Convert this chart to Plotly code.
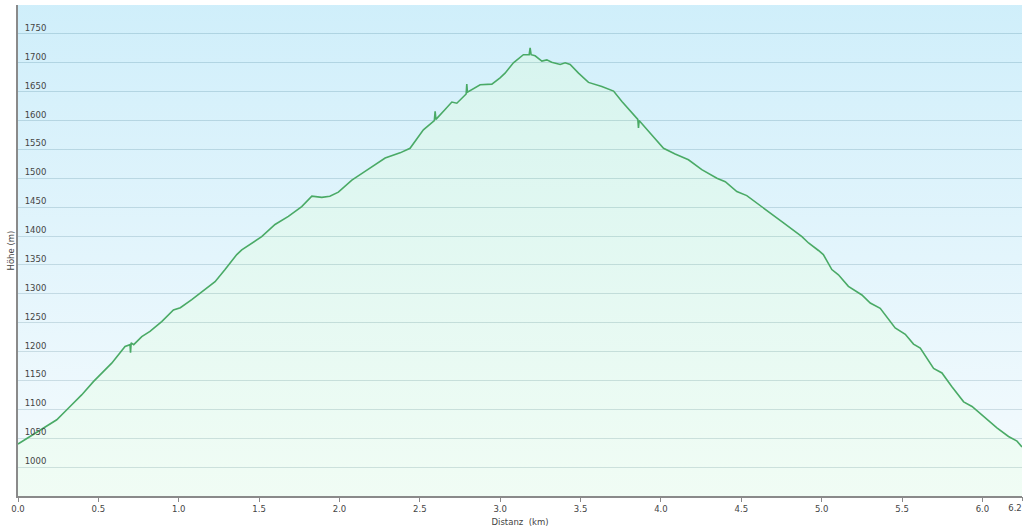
import plotly.graph_objects as go

distanz_km = [0.000, 0.106, 0.168, 0.241, 0.313, 0.396, 0.469, 0.531, 0.583, 0.666,
              0.690, 0.697, 0.700, 0.704, 0.720, 0.770, 0.821, 0.894, 0.967, 1.010,
              1.081, 1.164, 1.226, 1.288, 1.361, 1.392, 1.423, 1.516, 1.599, 1.682,
              1.765, 1.828, 1.890, 1.940, 1.993, 2.035, 2.077, 2.159, 2.284, 2.377,
              2.439, 2.522, 2.590, 2.595, 2.600, 2.657, 2.699, 2.730, 2.788, 2.792,
              2.796, 2.875, 2.948, 2.999, 3.030, 3.082, 3.144, 3.180, 3.186, 3.192,
              3.217, 3.259, 3.290, 3.320, 3.373, 3.404, 3.435, 3.487, 3.549, 3.632,
              3.705, 3.757, 3.809, 3.856, 3.860, 3.864, 3.943, 4.016, 4.088, 4.171,
              4.254, 4.348, 4.400, 4.472, 4.534, 4.628, 4.752, 4.877, 4.918, 4.980,
              5.010, 5.063, 5.104, 5.166, 5.250, 5.302, 5.364, 5.457, 5.520, 5.571,
              5.613, 5.696, 5.748, 5.810, 5.883, 5.935, 6.017, 6.090, 6.162, 6.215,
              6.246]
hoehe_m = [1040, 1058, 1070, 1082, 1102, 1125, 1148, 1165, 1180, 1209,
           1211, 1212, 1198, 1215, 1212, 1226, 1235, 1252, 1272, 1276,
           1290, 1307, 1321, 1342, 1368, 1376, 1382, 1399, 1420, 1434,
           1451, 1469, 1467, 1469, 1476, 1486, 1497, 1512, 1535, 1544,
           1552, 1584, 1600, 1616, 1602, 1619, 1632, 1630, 1646, 1663,
           1649, 1662, 1663, 1674, 1682, 1700, 1714, 1714, 1726, 1714,
           1712, 1703, 1705, 1701, 1697, 1700, 1697, 1682, 1666, 1659,
           1651, 1633, 1616, 1602, 1587, 1600, 1575, 1552, 1542, 1532,
           1515, 1500, 1494, 1477, 1470, 1451, 1425, 1399, 1388, 1375,
           1368, 1342, 1333, 1313, 1298, 1284, 1275, 1241, 1230, 1213,
           1206, 1171, 1163, 1139, 1113, 1105, 1085, 1068, 1053, 1045,
           1035]

x_tick_vals = [0.0, 0.5, 1.0, 1.5, 2.0, 2.5, 3.0, 3.5, 4.0, 4.5, 5.0, 5.5, 6.0]
x_tick_text = ["0.0", "0.5", "1.0", "1.5", "2.0", "2.5", "3.0", "3.5", "4.0", "4.5",
               "5.0", "5.5", "6.0"]
x_end_tick_val = [6.246]
x_end_tick_text = ["6.2"]
y_tick_vals = [1000, 1050, 1100, 1150, 1200, 1250, 1300, 1350, 1400, 1450,
               1500, 1550, 1600, 1650, 1700, 1750]

y_min, y_max = 950, 1800
x_max = distanz_km[-1]

font_family = "DejaVu Sans, Verdana, sans-serif"
text_color = "#444444"

fig = go.Figure()

# area under the profile (green gradient)
fig.add_trace(go.Scatter(
    x=distanz_km, y=hoehe_m, mode="none", fill="tozeroy",
    fillgradient=dict(type="vertical", start=y_min, stop=y_max,
                      colorscale=[[0, "rgba(226,250,234,0.5)"], [1, "rgba(170,232,222,0.5)"]]),
    hoverinfo="skip", showlegend=False))

# sky above the profile (blue gradient)
fig.add_trace(go.Scatter(
    x=distanz_km, y=[y_max] * len(distanz_km), mode="none", fill="tonexty",
    fillgradient=dict(type="vertical", start=y_min, stop=y_max,
                      colorscale=[[0, "rgba(236,247,252,0.5)"], [1, "rgba(160,222,246,0.5)"]]),
    hoverinfo="skip", showlegend=False))

# profile line (on the overlaid x axis that carries the end tick "6.2")
fig.add_trace(go.Scatter(
    x=distanz_km, y=hoehe_m, mode="lines", xaxis="x2", yaxis="y",
    line=dict(color="#4aaa66", width=1.6),
    showlegend=False))

fig.update_layout(
    width=1024, height=529,
    margin=dict(l=18, r=2, t=5, b=33),
    paper_bgcolor="white", plot_bgcolor="white",
    font=dict(family=font_family, size=8.5, color=text_color),
    xaxis=dict(range=[0, x_max], tickvals=x_tick_vals, ticktext=x_tick_text,
               showgrid=False, zeroline=False,
               showline=True, linecolor="#8a8a8a", linewidth=2,
               ticks="outside", ticklen=4, tickcolor="#8a8a8a",
               tickfont=dict(size=8.5, color=text_color),
               title=dict(text="Distanz  (km)", standoff=6,
                          font=dict(size=8.5, color=text_color)),
               automargin=False),
    xaxis2=dict(range=[0, x_max], overlaying="x", anchor="y", side="bottom",
                tickvals=x_end_tick_val, ticktext=x_end_tick_text,
                showgrid=False, zeroline=False, showline=False,
                ticks="outside", ticklen=4, tickcolor="#8a8a8a",
                ticklabelshift=-7, ticklabeloverflow="allow",
                tickfont=dict(size=8.5, color=text_color),
                automargin=False),
    yaxis=dict(range=[y_min, y_max], tickvals=y_tick_vals,
               showgrid=True, gridcolor="#b9c8ce", gridwidth=1, zeroline=False,
               showline=True, linecolor="#8a8a8a", linewidth=2,
               ticks="", ticklabelposition="outside", ticklabelshift=-6,
               ticklabelstandoff=-32,
               tickfont=dict(size=8.5, color=text_color),
               automargin=False),
    annotations=[dict(text="Höhe (m)", textangle=-90, showarrow=False,
                      xref="paper", yref="paper", x=0, y=0.5,
                      xanchor="center", yanchor="middle", xshift=-8,
                      font=dict(size=8.5, color=text_color))],
)

fig.write_html("out.html", config={"displayModeBar": False},
               post_script="document.body.style.margin='0px';")
